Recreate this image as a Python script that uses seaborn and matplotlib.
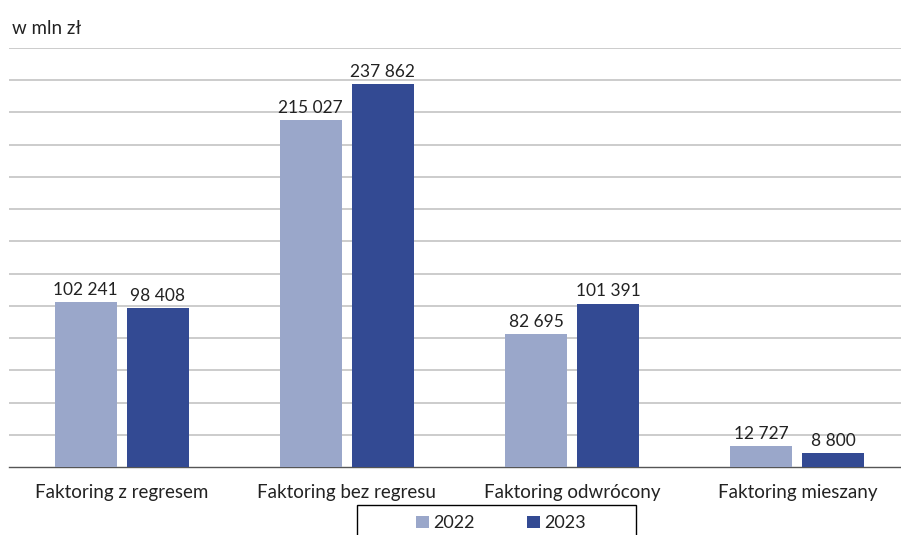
import pandas as pd
import seaborn as sns
import matplotlib.pyplot as plt
from matplotlib.patches import Rectangle

kategorie = ['Faktoring z regresem', 'Faktoring bez regresu',
             'Faktoring odwrócony', 'Faktoring mieszany']
lata = ['2022', '2023']
wart_2022 = [102241, 215027, 82695, 12727]
wart_2023 = [98408, 237862, 101391, 8800]
kolory = ['#9AA7CA', '#334A93']

df = pd.DataFrame({
    'Kategoria': kategorie * 2,
    'Rok': [lata[0]] * 4 + [lata[1]] * 4,
    'Wartosc': wart_2022 + wart_2023,
})

sns.set_style('white')
plt.rcParams['font.family'] = ['Lato', 'DejaVu Sans']

fig = plt.figure(figsize=(9.01, 5.35), dpi=100)
ax = fig.add_axes([9 / 901, 68 / 535, 901 / 901, 419 / 535])

sns.barplot(data=df, x='Kategoria', y='Wartosc', hue='Rok', order=kategorie,
            hue_order=lata, palette=kolory, width=0.64, gap=0.14,
            saturation=1, errorbar=None, linewidth=0, ax=ax, zorder=3)

# etykiety z wartosciami (spacja jako separator tysiecy)
for cont in ax.containers:
    etyk = [f"{int(b.get_height()):,}".replace(',', ' ') for b in cont]
    ax.bar_label(cont, labels=etyk, padding=3, fontsize=12.5, color='#222222')

ax.set_xlim(-0.5, 3.5)
ax.set_ylim(0, 260000)
ax.set_yticks(range(20000, 260001, 20000))
ax.yaxis.grid(True, color='#c8c8c8', linewidth=1.3, zorder=0)
ax.tick_params(axis='y', left=False, labelleft=False)
ax.set_xticks(range(4))
ax.set_xticklabels(kategorie, fontsize=13.5, color='#222222')
ax.tick_params(axis='x', length=0, pad=12)
# kreski miedzy kategoriami
ax.set_xticks([-0.5, 0.5, 1.5, 2.5, 3.5], minor=True)
ax.tick_params(axis='x', which='minor', length=6, width=1, color='#555555')
ax.set_xlabel('')
ax.set_ylabel('')
for s in ['top', 'right', 'left']:
    ax.spines[s].set_visible(False)
ax.spines['bottom'].set_color('#555555')
ax.spines['bottom'].set_linewidth(1)

fig.text(12 / 901, 1 - 28 / 535, 'w mln zł', fontsize=13.5, color='#222222',
         va='center', ha='left')

# legenda bez ramki, ramka rysowana osobno (szersza, uciete dolem)
leg = ax.legend(loc='upper center', bbox_to_anchor=(501 / 901, 25 / 535),
                bbox_transform=fig.transFigure, ncol=2, frameon=False,
                fontsize=13, handlelength=0.7, handleheight=0.7,
                handletextpad=0.25, columnspacing=2.9, borderpad=0.3,
                borderaxespad=0)
for t in leg.get_texts():
    t.set_color('#222222')
fig.patches.append(Rectangle((357 / 901, -0.05), (636 - 357) / 901,
                             0.05 + 30 / 535, transform=fig.transFigure,
                             fill=False, edgecolor='black', linewidth=1))

fig.savefig('out.png', dpi=100)
